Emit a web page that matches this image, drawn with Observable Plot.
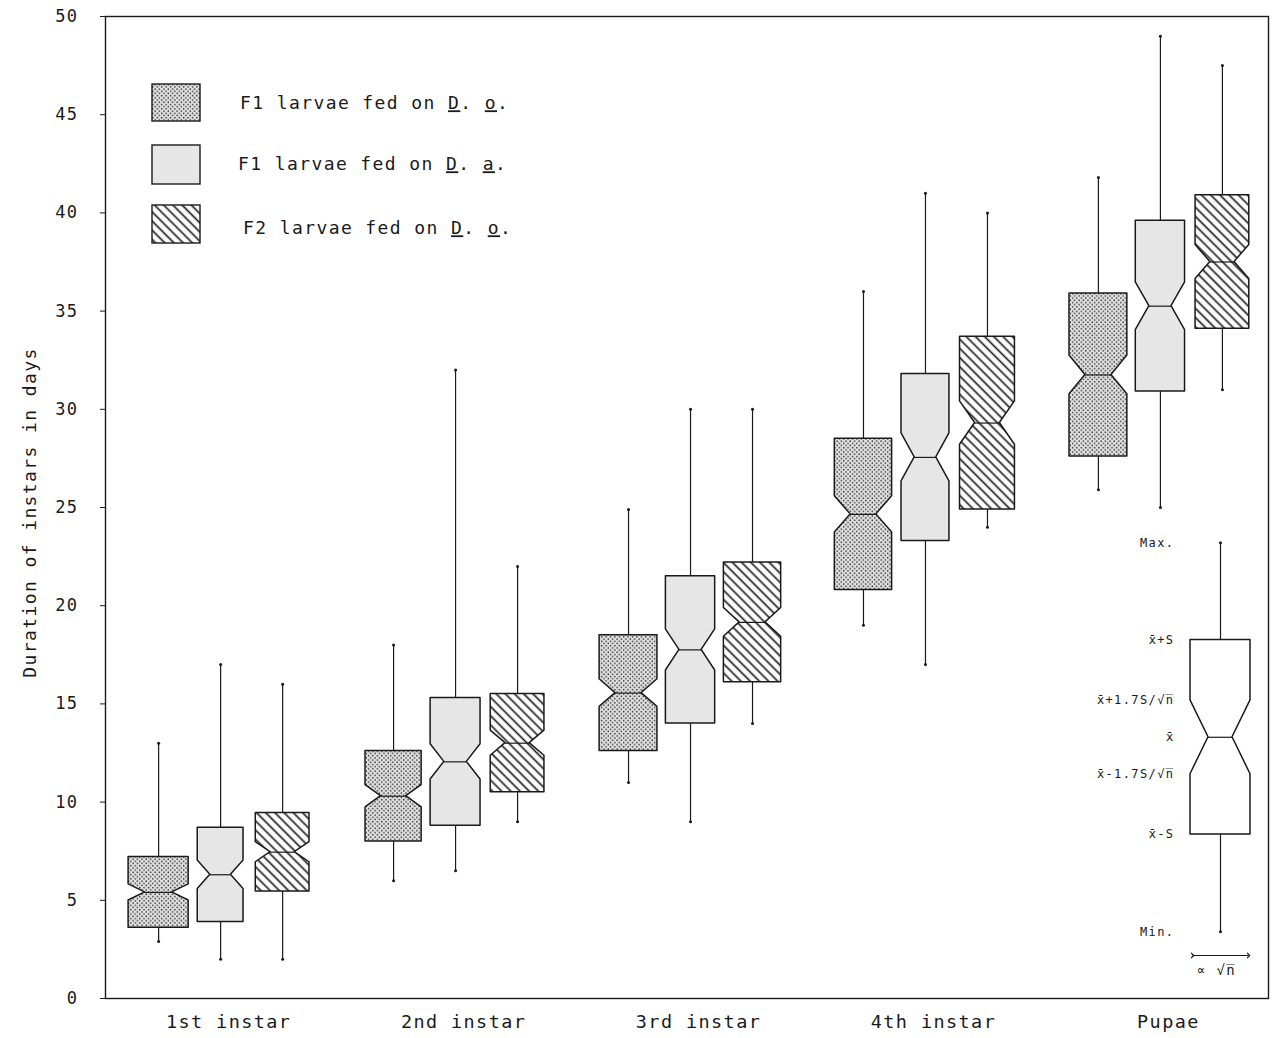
<!DOCTYPE html>
<html><head><meta charset="utf-8">
<script src="https://cdn.jsdelivr.net/npm/d3@7"></script>
<script src="https://cdn.jsdelivr.net/npm/@observablehq/plot@0.6"></script>
<style>
body{margin:0;background:#fff;}
#chart{position:relative;}
#chart svg text{letter-spacing:1.4px;}
</style></head><body>
<svg width="0" height="0" style="position:absolute">
<defs>
<pattern id="dots" patternUnits="userSpaceOnUse" width="4.4" height="4.4">
<rect width="4.4" height="4.4" fill="#e3e3e3"/>
<circle cx="1.1" cy="1.1" r="0.8" fill="#333"/>
<circle cx="3.3" cy="3.3" r="0.8" fill="#333"/>
</pattern>
<pattern id="hatch" patternUnits="userSpaceOnUse" width="6.5" height="6.5" patternTransform="rotate(-45)">
<rect width="6.5" height="6.5" fill="#fff"/>
<line x1="3.25" y1="-1" x2="3.25" y2="7.5" stroke="#222" stroke-width="1.7"/>
</pattern>
</defs>
</svg>
<div id="chart"></div>
<script>
// ---- data (days) ----
const stages = ["1st instar", "2nd instar", "3rd instar", "4th instar", "Pupae"];
const seriesNames = ["F1 larvae fed on D. o.", "F1 larvae fed on D. a.", "F2 larvae fed on D. o."];

const meanF1Do = [5.4, 10.3, 15.55, 24.65, 31.75];
const meanF1Da = [6.3, 12.05, 17.75, 27.55, 35.25];
const meanF2Do = [7.45, 13.0, 19.15, 29.3, 37.5];

const sdF1Do = [1.8, 2.3, 2.95, 3.85, 4.15];
const sdF1Da = [2.4, 3.25, 3.75, 4.25, 4.35];
const sdF2Do = [2.0, 2.5, 3.05, 4.4, 3.4];

const minF1Do = [2.9, 6, 11, 19, 25.9];
const minF1Da = [2, 6.5, 9, 17, 25];
const minF2Do = [2, 9, 14, 24, 31];

const maxF1Do = [13, 18, 24.9, 36, 41.8];
const maxF1Da = [17, 32, 30, 41, 49];
const maxF2Do = [16, 22, 30, 40, 47.5];

const nF1Do = [55, 48, 51, 50, 51];
const nF1Da = [32, 38, 37, 35, 37];
const nF2Do = [44, 44, 50, 46, 44];

const yTicks = [0, 5, 10, 15, 20, 25, 30, 35, 40, 45, 50];

// key (schematic box)
const keyMean = [13.3];
const keySd = [4.95];
const keyN = [20];
const keyMin = [3.4];
const keyMax = [23.2];
const keyLabels = ["Max.", "x\u0304+S", "x\u0304+1.7S/\u221An\u0305", "x\u0304", "x\u0304-1.7S/\u221An\u0305", "x\u0304-S", "Min."];

// ---- layout ----
const W = 1279, H = 1038, mL = 105, mR = 11, mT = 16, mB = 40;
const xDomain = [-0.49, 4.46];
const pxX = (xDomain[1] - xDomain[0]) / (W - mL - mR);
const spread = 62 * pxX;
const widthPerRootN = 8.1 * pxX;
const waistFrac = 0.45;
const fills = ["url(#dots)", "#e6e6e6", "url(#hatch)"];

const stats = [
  {mean: meanF1Do, sd: sdF1Do, min: minF1Do, max: maxF1Do, n: nF1Do},
  {mean: meanF1Da, sd: sdF1Da, min: minF1Da, max: maxF1Da, n: nF1Da},
  {mean: meanF2Do, sd: sdF2Do, min: minF2Do, max: maxF2Do, n: nF2Do}
];

function makeBox(id, s, cx, mean, sd, n, min, max, half) {
  const notch = 1.7 * sd / Math.sqrt(n);
  const waist = half * waistFrac;
  return {id, s, cx, mean, sd, n, min, max, half, waist, notch,
    top: mean + sd, bottom: mean - sd,
    outline: [
      {id, y: mean + sd, x1: cx - half, x2: cx + half},
      {id, y: mean + notch, x1: cx - half, x2: cx + half},
      {id, y: mean, x1: cx - waist, x2: cx + waist},
      {id, y: mean - notch, x1: cx - half, x2: cx + half},
      {id, y: mean - sd, x1: cx - half, x2: cx + half}
    ]};
}

const boxes = [];
stats.forEach((st, s) => {
  stages.forEach((g, gi) => {
    const cx = gi + (s - 1) * spread;
    const half = widthPerRootN * Math.sqrt(st.n[gi]) / 2;
    boxes.push(makeBox(`${s}-${gi}`, s, cx, st.mean[gi], st.sd[gi], st.n[gi], st.min[gi], st.max[gi], half));
  });
});

const keyX = xDomain[0] + (1220 - mL) * pxX;
const keyBox = makeBox("key", 1, keyX, keyMean[0], keySd[0], keyN[0], keyMin[0], keyMax[0], 30 * pxX);
keyBox.waist = keyBox.half * 0.4;
keyBox.outline[2].x1 = keyX - keyBox.waist;
keyBox.outline[2].x2 = keyX + keyBox.waist;
const keyLevels = [keyBox.max, keyBox.top, keyBox.mean + keyBox.notch, keyBox.mean, keyBox.mean - keyBox.notch, keyBox.bottom, keyBox.min];
const keyTextRows = keyLabels.map((t, i) => ({t, y: keyLevels[i]}));
const pxY = 50 / (H - mT - mB);

const font = "DejaVu Sans Mono";
const ink = "#1a1a1a";

const boxMarks = [0, 1, 2].map(s => Plot.areaX(boxes.filter(b => b.s === s).flatMap(b => b.outline), {
  y: "y", x1: "x1", x2: "x2", z: "id", fill: fills[s], stroke: ink, strokeWidth: 1.5, curve: "linear"
}));

const allBoxes = [...boxes, keyBox];

const plot = Plot.plot({
  width: W, height: H,
  marginLeft: mL, marginRight: mR, marginTop: mT, marginBottom: mB,
  style: {fontFamily: font, fontSize: "17px", color: ink, background: "#fff"},
  x: {domain: xDomain, axis: null},
  y: {domain: [0, 50], ticks: yTicks, tickSize: 5, tickPadding: 22, label: null, tickFormat: d => String(d)},
  marks: [
    Plot.frame({stroke: ink, strokeWidth: 1.4}),
    Plot.ruleX(allBoxes, {x: "cx", y1: "top", y2: "max", stroke: ink, strokeWidth: 1.2}),
    Plot.ruleX(allBoxes, {x: "cx", y1: "min", y2: "bottom", stroke: ink, strokeWidth: 1.2}),
    Plot.dot(allBoxes, {x: "cx", y: "max", r: 1.5, fill: ink}),
    Plot.dot(allBoxes, {x: "cx", y: "min", r: 1.5, fill: ink}),
    ...boxMarks,
    Plot.areaX(keyBox.outline, {y: "y", x1: "x1", x2: "x2", fill: "#fff", stroke: ink, strokeWidth: 1.5}),
    Plot.ruleY(allBoxes, {y: "mean", x1: d => d.cx - d.waist, x2: d => d.cx + d.waist, stroke: ink, strokeWidth: 1.2}),
    Plot.text(keyTextRows, {x: keyX, y: "y", text: "t", dx: -46, textAnchor: "end", fontSize: 12, fill: ink}),
    Plot.link([0], {x1: keyX - 28 * pxX, x2: keyX + 28 * pxX, y1: 43 * pxY, y2: 43 * pxY, stroke: ink, strokeWidth: 1.2, markerStart: "arrow", markerEnd: "arrow"}),
    Plot.text(["\u221D \u221An\u0305"], {x: keyX, y: 28 * pxY, dx: -4, text: d => d, fontSize: 14, fill: ink}),
    Plot.text(stages, {x: (d, i) => i, y: 0, dy: 24, dx: 8, text: d => d, fontSize: 18.5, fill: ink}),
    Plot.text(["Duration of instars in days"], {frameAnchor: "left", rotate: -90, dx: -75, dy: 5, textAnchor: "middle", text: d => d, fontSize: 18, fill: ink})
  ]
});
document.getElementById("chart").appendChild(plot);

// ---- legend (annotation) ----
const svg = d3.select(plot);
const lg = svg.append("g").attr("font-family", font).attr("font-size", 18).attr("fill", ink).attr("text-anchor", "start");
const sw = [{y: 84, h: 37, tx: 240, ty: 103}, {y: 145, h: 39, tx: 238, ty: 164}, {y: 205, h: 38, tx: 243, ty: 228}];
sw.forEach((d, i) => {
  lg.append("rect").attr("x", 152).attr("y", d.y).attr("width", 48).attr("height", d.h)
    .attr("fill", fills[i]).attr("stroke", ink).attr("stroke-width", 1.4);
  const t = lg.append("text").attr("x", d.tx).attr("y", d.ty).attr("dy", "0.35em");
  const m = seriesNames[i].match(/^(.* on )(D)(\. )(\w)(\.)$/);
  [[m[1], false], [m[2], true], [m[3], false], [m[4], true], [m[5], false]].forEach(([s, u]) => {
    const ts = t.append("tspan").text(s);
    if (u) ts.attr("text-decoration", "underline");
  });
});
</script>
</body></html>
